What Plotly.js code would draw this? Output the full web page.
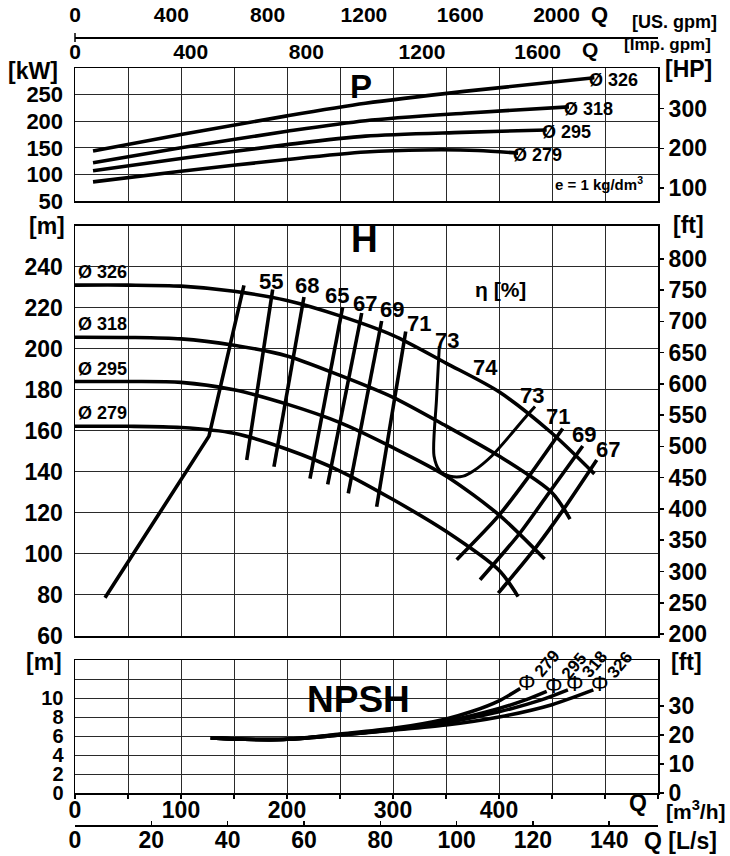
<!DOCTYPE html>
<html>
<head>
<meta charset="utf-8">
<script src="https://cdn.plot.ly/plotly-3.0.1.min.js"></script>
<style>html,body{margin:0;padding:0;background:#fff;}#chart{width:730px;height:856px;}</style>
</head>
<body>
<div id="chart"></div>
<script>
// ---------------- DATA ----------------
// Power P [kW] vs Q [m3/h]
const p326Q = [17, 100, 200, 274, 367, 490];
const p326  = [144, 175, 210, 233.6, 256, 281.8];
const p318Q = [17, 100, 200, 274, 367, 466];
const p318  = [122, 150, 181, 201, 215, 227];
const p295Q = [17, 100, 200, 274, 365, 445];
const p295  = [107, 130, 156, 172, 179, 183.5];
const p279Q = [17, 100, 200, 274, 330, 380, 418];
const p279  = [86, 106, 128, 142, 146, 145, 140];

// Head H [m] vs Q [m3/h]
const h326Q = [0, 50, 100, 150, 200, 250, 300, 350, 400, 450, 490];
const h326  = [231, 231, 230.5, 228, 223.5, 216, 206.5, 193, 179, 158.8, 139];
const h318Q = [0, 50, 100, 150, 200, 250, 300, 350, 400, 450, 467];
const h318  = [205.6, 205.5, 204.8, 201.7, 196.5, 187, 176.3, 162.4, 147.7, 129.8, 117];
const h295Q = [0, 50, 100, 150, 200, 250, 300, 350, 400, 443];
const h295  = [184, 184, 183.6, 180, 173, 164, 151.8, 138, 119, 97.5];
const h279Q = [0, 50, 100, 150, 200, 250, 300, 350, 400, 418];
const h279  = [162.2, 162.2, 161.6, 158.8, 151, 140.4, 126.5, 111, 92, 79.2];

// Efficiency iso-lines (Q [m3/h], H [m])
const effMinQ = [28.3, 126.4, 159.4];          const effMinH = [78.6, 157.4, 230.9];
const eff55Q  = [162.0, 186.5];                const eff55H  = [145.8, 228.9];
const eff68Q  = [187.7, 216.0];                const eff68H  = [142.5, 225.2];
const eff65Q  = [221.7, 252.5];                const eff65H  = [136.7, 220.3];
const eff67Q  = [238.4, 270.5];                const eff67H  = [133.9, 217.4];
const eff69Q  = [257.8, 289.3];                const eff69H  = [129.5, 213.5];
const eff71Q  = [284.6, 312.0];                const eff71H  = [123.0, 208.4];
const eff73Q  = [343.7, 341, 338.7, 344.3, 353.8, 366.3, 375.8, 393.1, 426.1, 434];
const eff73H  = [201.2, 175, 147.7, 140.4, 137.9, 137.9, 140.4, 147.7, 167.3, 171.9];
const eff71rQ = [360.1, 399.3, 426.1, 460.1];  const eff71rH = [97.2, 118.4, 136.3, 161.1];
const eff69rQ = [382.1, 419.8, 445, 479];      const eff69rH = [87.4, 110.2, 128.2, 152.6];
const eff67rQ = [399.3, 435.6, 460.7, 492.2];  const eff67rH = [80.9, 103.7, 121.6, 145.8];

// NPSH [m] vs Q [m3/h]
const n279Q = [128, 160, 200, 250, 300, 350, 375, 400, 420];
const n279  = [5.8, 5.65, 5.65, 6.2, 6.8, 7.8, 8.6, 9.7, 11.0];
const n295Q = [128, 160, 200, 250, 300, 350, 400, 425, 445];
const n295  = [5.8, 5.65, 5.65, 6.15, 6.7, 7.55, 8.9, 9.8, 10.7];
const n318Q = [128, 160, 200, 250, 300, 350, 400, 440, 465];
const n318  = [5.8, 5.65, 5.65, 6.1, 6.65, 7.4, 8.55, 9.8, 10.85];
const n326Q = [128, 160, 200, 250, 300, 350, 400, 450, 489];
const n326  = [5.8, 5.65, 5.65, 6.1, 6.6, 7.15, 8.0, 9.3, 10.85];

// Labels / ticks
const diaLabels = ['326', '318', '295', '279'];
const npshDia   = ['279', '295', '318', '326'];
const effLabels = ['55', '68', '65', '67', '69', '71', '73', '74', '73', '71', '69', '67'];
const qM3hTicks = [0, 100, 200, 300, 400];
const qLsTicks  = [0, 20, 40, 60, 80, 100, 120, 140];
const qUsTicks  = [0, 400, 800, 1200, 1600, 2000];
const qImpTicks = [0, 400, 800, 1200, 1600];
const pTicks    = [50, 100, 150, 200, 250];
const hpTicks   = [100, 200, 300];
const hTicks    = [60, 80, 100, 120, 140, 160, 180, 200, 220, 240];
const hFtTicks  = [200, 250, 300, 350, 400, 450, 500, 550, 600, 650, 700, 750, 800];
const nTicks    = [0, 2, 4, 6, 8, 10];
const nFtTicks  = [0, 10, 20, 30];

// unit conversions
const QMAX = 550;
const M3H_TO_USGPM = 4.402868;
const M3H_TO_IMPGPM = 3.666154;
const M3H_TO_LS = 1 / 3.6;
const KW_TO_HP = 1 / 0.7457;
const M_TO_FT = 1 / 0.3048;

// ---------------- TRACES ----------------
const FONT = 'Arial, "Liberation Sans", sans-serif';
const LW = 3.6;
function line(x, y, xa, ya, shape, w) {
  return {x: x, y: y, xaxis: xa, yaxis: ya, mode: 'lines', type: 'scatter',
          line: {color: '#000', width: w || LW, shape: shape || 'spline', smoothing: 0.8},
          hoverinfo: 'skip', showlegend: false};
}
function dummy(xa, ya) {
  return {x: [null], y: [null], xaxis: xa, yaxis: ya, mode: 'lines', hoverinfo: 'skip', showlegend: false};
}
const traces = [
  line(p326Q, p326, 'x3', 'y'), line(p318Q, p318, 'x3', 'y'),
  line(p295Q, p295, 'x3', 'y'), line(p279Q, p279, 'x3', 'y'),
  line(h326Q, h326, 'x2', 'y2'), line(h318Q, h318, 'x2', 'y2'),
  line(h295Q, h295, 'x2', 'y2'), line(h279Q, h279, 'x2', 'y2'),
  line(effMinQ, effMinH, 'x2', 'y2', 'linear'),
  line(eff55Q, eff55H, 'x2', 'y2', 'linear'),
  line(eff68Q, eff68H, 'x2', 'y2', 'linear'),
  line(eff65Q, eff65H, 'x2', 'y2', 'linear'),
  line(eff67Q, eff67H, 'x2', 'y2', 'linear'),
  line(eff69Q, eff69H, 'x2', 'y2', 'linear'),
  line(eff71Q, eff71H, 'x2', 'y2', 'linear'),
  line(eff73Q, eff73H, 'x2', 'y2', 'spline', 3),
  line(eff71rQ, eff71rH, 'x2', 'y2'),
  line(eff69rQ, eff69rH, 'x2', 'y2'),
  line(eff67rQ, eff67rH, 'x2', 'y2'),
  line(n279Q, n279, 'x', 'y3'), line(n295Q, n295, 'x', 'y3'),
  line(n318Q, n318, 'x', 'y3'), line(n326Q, n326, 'x', 'y3'),
  dummy('x4', 'y'), dummy('x5', 'y'), dummy('x6', 'y3'),
  dummy('x3', 'y4'), dummy('x2', 'y5'), dummy('x', 'y6')
];

// ---------------- LAYOUT ----------------
const W = 730, H = 856, ML = 75, MR = 72, MT = 37, MB = 31;
const PW = W - ML - MR, PH = H - MT - MB;
const px = v => (v - ML) / PW;           // pixel -> paper x
const py = v => (H - MB - v) / PH;       // pixel -> paper y

const gridC = '#2a2a2a';
function xBase(anchor, labels) {
  return {anchor: anchor, domain: [0, 1], range: [0, QMAX], tickvals: qM3hTicks,
          showticklabels: labels, ticks: labels ? 'outside' : '', ticklen: 4, tickwidth: 2, tickcolor: '#000',
          ticklabelstandoff: -8,
          minor: {dtick: 50, tick0: 0, showgrid: true, gridcolor: gridC, gridwidth: 1,
                  ticks: labels ? 'outside' : '', ticklen: 4, tickwidth: 2, tickcolor: '#000'},
          showgrid: true, gridcolor: gridC, gridwidth: 1, zeroline: false,
          showline: true, mirror: true, linecolor: '#000', linewidth: 1.5,
          tickfont: {family: FONT, size: 23, color: '#000', weight: 'bold'}, fixedrange: true};
}
function yLeft(domain, range, tv, size, minorDtick) {
  const o = {domain: domain, range: range, tickvals: tv, showgrid: true, gridcolor: gridC, gridwidth: 1,
             zeroline: false, showline: true, mirror: true, linecolor: '#000', linewidth: 1.5,
             ticks: '', ticklabelstandoff: 6,
             tickfont: {family: FONT, size: size, color: '#000', weight: 'bold'}, fixedrange: true};
  if (minorDtick) o.minor = {dtick: minorDtick, tick0: 0, showgrid: true, gridcolor: gridC, gridwidth: 1, ticks: ''};
  return o;
}
function yRight(over, anchor, range, tv) {
  return {overlaying: over, anchor: anchor, side: 'right', range: range, tickvals: tv,
          showgrid: false, zeroline: false, showline: false, ticks: 'outside', ticklen: 5, tickwidth: 1.5,
          tickcolor: '#000', ticklabelstandoff: 0,
          tickfont: {family: FONT, size: 23, color: '#000', weight: 'bold'}, fixedrange: true};
}

const domP = [py(201), py(68)];
const domH = [py(636), py(225.6)];
const domN = [py(793), py(660)];

const layout = {
  width: W, height: H,
  margin: {l: ML, r: MR, t: MT, b: MB, pad: 0},
  paper_bgcolor: '#fff', plot_bgcolor: '#fff', showlegend: false,
  font: {family: FONT, color: '#000'},
  xaxis: xBase('y3', true),
  xaxis2: xBase('y2', false),
  xaxis3: xBase('y', false),
  xaxis4: {overlaying: 'x3', anchor: 'free', position: 1, side: 'top', range: [0, QMAX * M3H_TO_USGPM],
           tickvals: qUsTicks, showgrid: false, zeroline: false, showline: true, linecolor: '#000', linewidth: 1.5,
           ticks: '', ticklabelstandoff: 7,
           tickfont: {family: FONT, size: 21, color: '#000', weight: 'bold'}, fixedrange: true},
  xaxis5: {overlaying: 'x3', anchor: 'free', position: 1, side: 'bottom', range: [0, QMAX * M3H_TO_IMPGPM],
           tickvals: qImpTicks, showgrid: false, zeroline: false, showline: false,
           ticks: '', ticklabelstandoff: 0,
           tickfont: {family: FONT, size: 21, color: '#000', weight: 'bold'}, fixedrange: true},
  xaxis6: {overlaying: 'x', anchor: 'free', position: 0, side: 'bottom', range: [0, QMAX * M3H_TO_LS],
           tickvals: qLsTicks, showgrid: false, zeroline: false, showline: true, linecolor: '#000', linewidth: 1.5,
           ticks: 'inside', ticklen: 4, tickwidth: 1.5, tickcolor: '#000', ticklabelstandoff: -6,
           tickfont: {family: FONT, size: 23, color: '#000', weight: 'bold'}, fixedrange: true},
  yaxis: Object.assign(yLeft(domP, [50, 300], pTicks, 22), {anchor: 'x3'}),
  yaxis2: Object.assign(yLeft(domH, [60, 260], hTicks, 23), {anchor: 'x2'}),
  yaxis3: Object.assign(yLeft(domN, [0, 14], nTicks, 20, 2), {anchor: 'x'}),
  yaxis4: yRight('y', 'x3', [50 * KW_TO_HP, 300 * KW_TO_HP], hpTicks),
  yaxis5: yRight('y2', 'x2', [60 * M_TO_FT, 260 * M_TO_FT], hFtTicks),
  yaxis6: yRight('y3', 'x', [0, 14 * M_TO_FT], nFtTicks),
  shapes: [
    {type: 'line', xref: 'paper', yref: 'paper', x0: 0, x1: 0, y0: py(33), y1: py(42),
     line: {color: '#000', width: 1.5}}
  ],
  annotations: []
};

const A = layout.annotations;
function txt(text, x, y, size, opts) {
  A.push(Object.assign({text: text, x: x, y: y, xref: 'paper', yref: 'paper', showarrow: false,
    xanchor: 'center', yanchor: 'middle',
    font: {family: FONT, size: size, color: '#000', weight: 'bold'}}, opts || {}));
}
function dtxt(text, x, y, xa, ya, size, opts) {
  txt(text, x, y, size, Object.assign({xref: xa, yref: ya}, opts || {}));
}

// unit labels
txt('[kW]', px(33), py(71), 23);
txt('[HP]', px(688), py(69), 23);
txt('[m]', px(47), py(226), 23);
txt('[ft]', px(688), py(225), 23);
txt('[m]', px(44), py(662), 23);
txt('[ft]', px(686), py(662), 23);
txt('Q', px(638), py(803), 23);
txt('[m<sup>3</sup>/h]', px(696), py(810), 21);
txt('Q [L/s]', px(680), py(841), 23);
txt('Q', px(599), py(15), 22);
txt('[US. gpm]', px(674), py(22), 18);
txt('Q', px(590), py(50), 21);
txt('[Imp. gpm]', px(667), py(44), 17);

// panel titles
txt('P', px(361), py(86), 33);
txt('H', px(364), py(240), 37);
txt('NPSH', px(358), py(699), 37);
txt('e = 1 kg/dm<sup>3</sup>', px(599), py(184), 15);
dtxt('η [%]', 401, 229, 'x2', 'y2', 21);

// diameter labels in P
const pEndQ = [p326Q[p326Q.length - 1], p318Q[p318Q.length - 1], p295Q[p295Q.length - 1], p279Q[p279Q.length - 1]];
const pEndV = [p326[p326.length - 1], p318[p318.length - 1], p295[p295.length - 1], p279[p279.length - 1]];
diaLabels.forEach((d, i) => dtxt('Ø ' + d, pEndQ[i], pEndV[i], 'x3', 'y', 18,
  {xanchor: 'left', xshift: -7, yshift: -2}));

// diameter labels in H
const hStart = [h326[0], h318[0], h295[0], h279[0]];
diaLabels.forEach((d, i) => dtxt('Ø ' + d, 1, hStart[i], 'x2', 'y2', 18,
  {xanchor: 'left', yshift: 13}));

// efficiency labels
const effLabQ = [184.9, 218.6, 247.6, 273.9, 299.1, 324.5, 350.7, 386.8, 430.8, 455.9, 479.9, 503.1];
const effLabH = [232.7, 230.7, 225.9, 222.0, 218.9, 212.1, 203.9, 190.9, 177.4, 166.9, 158.0, 151.1];
effLabels.forEach((t, i) => dtxt(t, effLabQ[i], effLabH[i], 'x2', 'y2', 22));

// NPSH labels
const nEndQ = [n279Q[n279Q.length - 1], n295Q[n295Q.length - 1], n318Q[n318Q.length - 1], n326Q[n326Q.length - 1]];
const nEndV = [n279[n279.length - 1], n295[n295.length - 1], n318[n318.length - 1], n326[n326.length - 1]];
npshDia.forEach((d, i) => {
  dtxt('Φ', nEndQ[i], nEndV[i], 'x', 'y3', 22, {xshift: 7, yshift: 6,
    font: {family: FONT, size: 22, color: '#000'}});
  dtxt(d, nEndQ[i], nEndV[i], 'x', 'y3', 17, {xshift: 27, yshift: 25, textangle: -50});
});

Plotly.newPlot('chart', traces, layout, {staticPlot: true, displayModeBar: false});
</script>
</body>
</html>
